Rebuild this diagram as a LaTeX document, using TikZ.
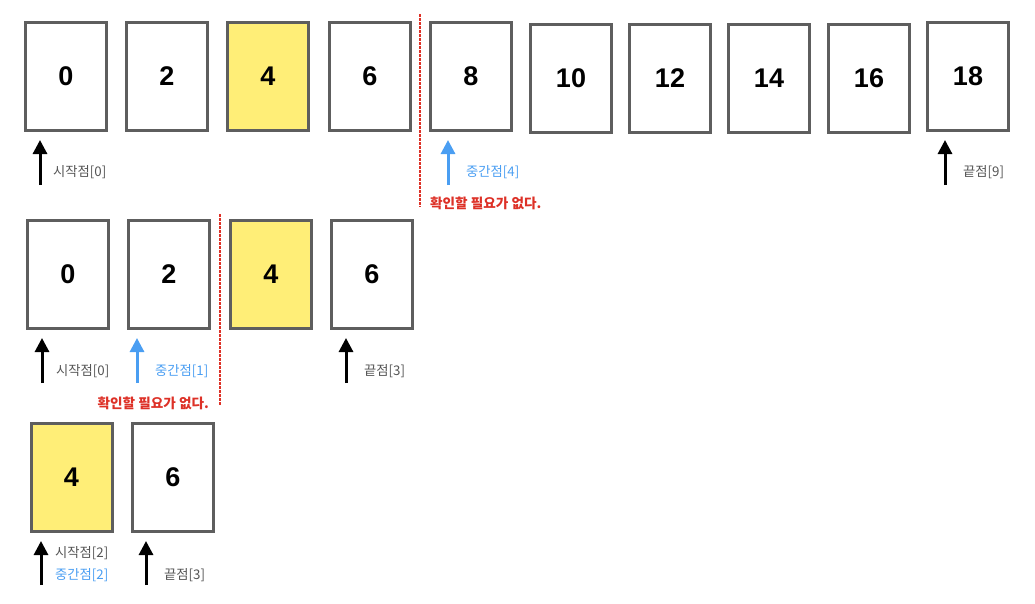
\documentclass[tikz,border=0pt]{standalone}
\usepackage{fontspec}
\setmainfont{Liberation Sans}
\newfontfamily\kr{Noto Sans CJK KR}
\usetikzlibrary{arrows.meta}

\definecolor{cellline}{HTML}{5E5E5E}
\definecolor{cellfill}{HTML}{FFEE77}
\definecolor{midblue}{HTML}{4A9EF2}
\definecolor{notered}{HTML}{DD3127}
\definecolor{lbl}{HTML}{555555}

\tikzset{
  cell/.style={draw=cellline, fill=white, line width=3pt, minimum width=81pt,
    minimum height=108pt, inner sep=0pt, text depth=-5pt,
    font=\fontsize{27}{30}\selectfont\bfseries},
  hit/.style={cell, fill=cellfill},
  ptr/.style={line width=3pt, -{Triangle[width=14pt,length=14pt]}, shorten >=8pt},
  tag/.style={anchor=west, inner sep=0pt, text=lbl, font=\kr\fontsize{13.3}{15}\selectfont},
  cut/.style={draw=notered, line width=1.4pt, dash pattern=on 3pt off 1pt},
  note/.style={text=notered, inner sep=0pt, font=\kr\bfseries\fontsize{13.6}{15}\selectfont}
}

\begin{document}
\begin{tikzpicture}[x=1pt,y=-1pt]
\useasboundingbox (0,0) rectangle (1035,603);

% Row 1
\foreach \n/\x/\y/\s in {0/66/76.5/cell, 2/167/76.5/cell, 4/268/76.5/hit, 6/370/76.5/cell,
  8/471/76.5/cell, 10/571/78.5/cell, 12/670/78.5/cell, 14/769/78.5/cell,
  16/869/78.5/cell, 18/968/76.5/cell}
  \node[\s] (a\n) at (\x,\y) {\n};

\coordinate (aS) at (40,185);
\coordinate (aM) at (448,185);
\coordinate (aE) at (945,185);
\draw[ptr] (aS) -- (aS |- a0.south);
\draw[ptr, midblue] (aM) -- (aM |- a8.south);
\draw[ptr] (aE) -- (aE |- a18.south);

\node[tag] (aSt) at (53,172) {시작점[0]};
\node[tag, text=midblue] (aMt) at (466,172) {중간점[4]};
\node[tag] (aEt) at (963,172) {끝점[9]};

\coordinate (aCut1) at (420,14);
\coordinate (aCut2) at (420,207);
\draw[cut] (aCut1) -- (aCut2);
\node[note, anchor=west] (aNote) at (430,203) {확인할 필요가 없다.};

% Row 2
\foreach \n/\x/\s in {0/68/cell, 2/169/cell, 4/271/hit, 6/372/cell}
  \node[\s] (b\n) at (\x,274.5) {\n};

\coordinate (bS) at (42,383);
\coordinate (bM) at (137,383);
\coordinate (bE) at (346,383);
\draw[ptr] (bS) -- (bS |- b0.south);
\draw[ptr, midblue] (bM) -- (bM |- b2.south);
\draw[ptr] (bE) -- (bE |- b6.south);

\node[tag] (bSt) at (56,371) {시작점[0]};
\node[tag, text=midblue] (bMt) at (155,371) {중간점[1]};
\node[tag] (bEt) at (364,371) {끝점[3]};

\coordinate (bCut1) at (220,214);
\coordinate (bCut2) at (220,406);
\draw[cut] (bCut1) -- (bCut2);
\node[note, anchor=east] (bNote) at (209,403) {확인할 필요가 없다.};

% Row 3
\node[hit] (c4) at (71.5,477.5) {4};
\node[cell] (c6) at (173,477.5) {6};

\coordinate (cS) at (41,585);
\coordinate (cE) at (146,585);
\draw[ptr] (cS) -- (cS |- c4.south);
\draw[ptr] (cE) -- (cE |- c6.south);

\node[tag] (cSt) at (55,553) {시작점[2]};
\node[tag, text=midblue] (cMt) at (55,575) {중간점[2]};
\node[tag] (cEt) at (164,575) {끝점[3]};

\end{tikzpicture}
\end{document}
